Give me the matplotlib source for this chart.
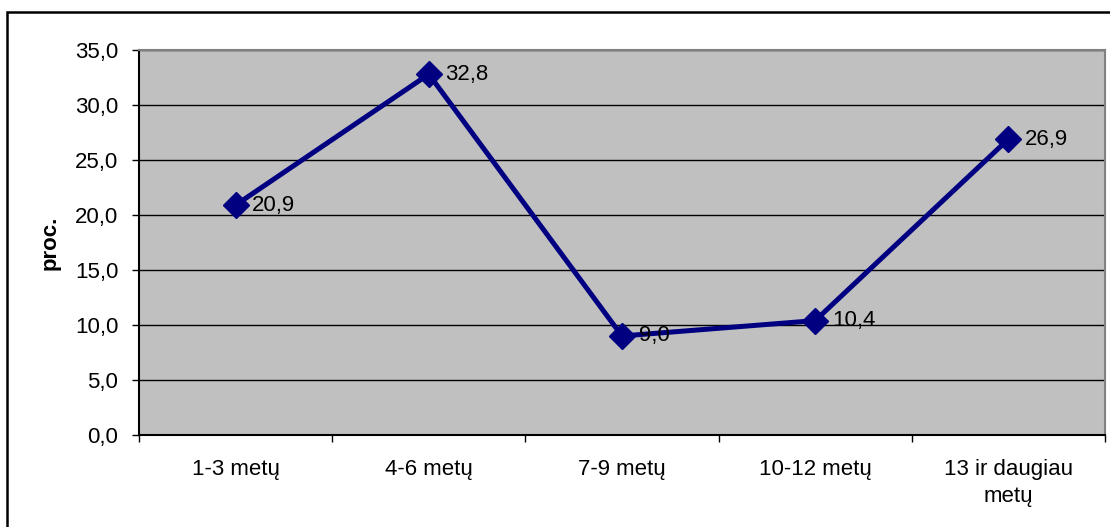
import matplotlib
matplotlib.use('Agg')
import matplotlib.pyplot as plt
import numpy as np
from matplotlib.patches import Rectangle

categories = ['1-3 metų', '4-6 metų', '7-9 metų', '10-12 metų', '13 ir daugiau\nmetų']
values = [20.9, 32.8, 9.0, 10.4, 26.9]
yticks = [0, 5, 10, 15, 20, 25, 30, 35]

plt.rcParams['font.family'] = ['Liberation Sans', 'DejaVu Sans']
fs = 16

fig = plt.figure(figsize=(11.1, 5.27), dpi=100)
ax = fig.add_axes([0.1252, 0.1746, 0.8703, 0.7305])

# Outer chart frame
fig.patches.append(Rectangle((7 / 1110, -0.05), 1.2, 1 - 12 / 527 + 0.05,
                             transform=fig.transFigure, fill=False,
                             edgecolor='black', linewidth=1.8))

ax.set_facecolor('#c0c0c0')
x = np.arange(len(categories))
ax.plot(x, values, color='#000080', linewidth=3.6, marker='D', markersize=13.5,
        zorder=3, clip_on=False)

for xi, v in zip(x, values):
    ax.annotate('{:.1f}'.format(v).replace('.', ','), xy=(xi, v), xytext=(12, 0),
                textcoords='offset points', va='center', ha='left', fontsize=fs)

ax.set_xlim(-0.5, len(categories) - 0.5)
ax.set_ylim(0, 35)
ax.set_yticks(yticks)
ax.set_yticklabels(['{:.1f}'.format(t).replace('.', ',') for t in yticks], fontsize=fs)
ax.yaxis.grid(True, color='black', linewidth=1)
ax.set_axisbelow(True)

ax.set_xticks(x)
ax.set_xticklabels(categories, fontsize=fs, linespacing=1.4)
ax.set_xticks(np.arange(-0.5, len(categories)), minor=True)
ax.tick_params(axis='x', which='major', length=0, pad=17)
ax.tick_params(axis='x', which='minor', length=5, width=1, direction='out')
ax.tick_params(axis='y', length=5, width=1, direction='out', pad=10)

ax.set_ylabel('proc.', fontsize=fs, fontweight='bold', labelpad=10)

for s in ['left', 'bottom']:
    ax.spines[s].set_color('black')
    ax.spines[s].set_linewidth(1.5)
for s in ['top', 'right']:
    ax.spines[s].set_color('#808080')
    ax.spines[s].set_linewidth(1.5)

fig.savefig('out.png', dpi=100)
